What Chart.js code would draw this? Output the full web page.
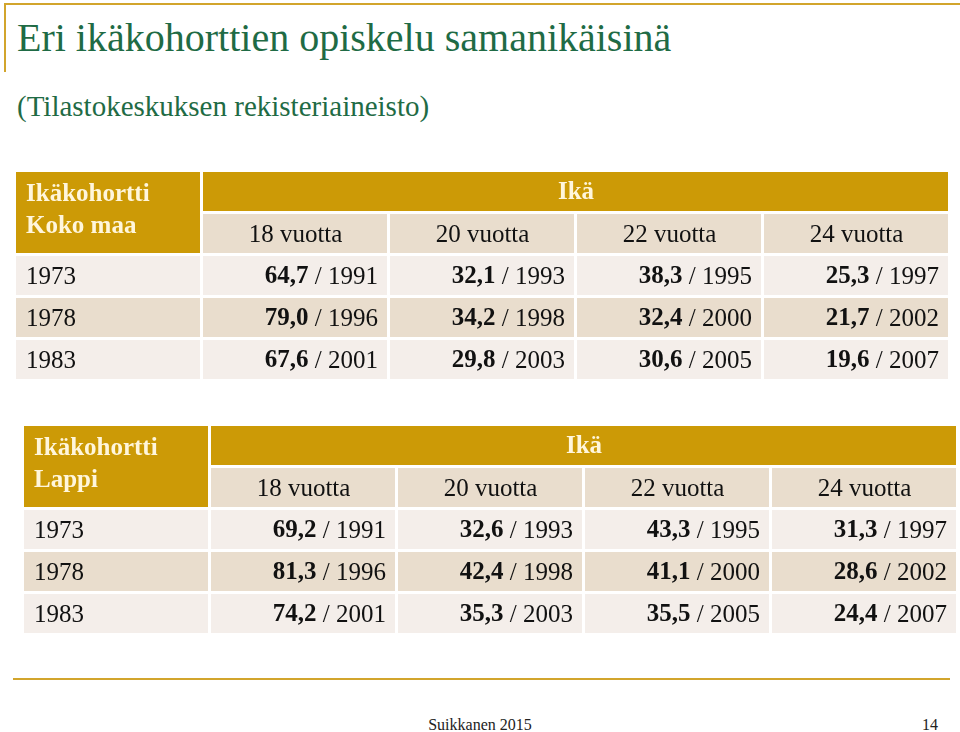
<!DOCTYPE html>
<html>
<head>
<meta charset="utf-8">
<script src="https://cdn.jsdelivr.net/npm/chart.js@4.4.0/dist/chart.umd.min.js"></script>
<style>
  body { margin: 0; width: 960px; height: 732px; background: #fff; position: relative; overflow: hidden;
         font-family: "Liberation Serif", "Times New Roman", serif; }
  .topline { position: absolute; left: 5px; top: 3px; width: 955px; height: 2px; background: #d2a52c; }
  .sideline { position: absolute; left: 4px; top: 3px; width: 2px; height: 69px; background: #d2a52c; }
  .title { position: absolute; left: 17px; top: 18px; font-size: 40px; line-height: 40px; color: #1f6b45; white-space: nowrap; }
  .subtitle { position: absolute; left: 17px; top: 92px; font-size: 29px; line-height: 29px; color: #1f6b45; white-space: nowrap; }
  canvas { position: absolute; }
  #table1 { left: 15px; top: 171px; }
  #table2 { left: 23px; top: 425px; }
  .footline { position: absolute; left: 13px; top: 678px; width: 937px; height: 2px; background: #d2a52c; }
  .foot { position: absolute; left: 380px; width: 200px; top: 716px; text-align: center; font-size: 16px; line-height: 18px; color: #222; }
  .page { position: absolute; left: 900px; width: 38px; top: 716px; text-align: right; font-size: 16px; line-height: 18px; color: #222; }
</style>
</head>
<body>
<div class="topline"></div>
<div class="sideline"></div>
<div class="title">Eri ikäkohorttien opiskelu samanikäisinä</div>
<div class="subtitle">(Tilastokeskuksen rekisteriaineisto)</div>
<canvas id="table1" width="935" height="210"></canvas>
<canvas id="table2" width="935" height="210"></canvas>
<div class="footline"></div>
<div class="foot">Suikkanen 2015</div>
<div class="page">14</div>
<script>
"use strict";

// data
var ages = ['18 vuotta', '20 vuotta', '22 vuotta', '24 vuotta'];
var cohorts = ['1973', '1978', '1983'];

// vuosi jolloin ikä täyttyy
var years1973 = [1991, 1993, 1995, 1997];
var years1978 = [1996, 1998, 2000, 2002];
var years1983 = [2001, 2003, 2005, 2007];

// Koko maa, opiskelevien osuus %
var kokoMaa1973 = [64.7, 32.1, 38.3, 25.3];
var kokoMaa1978 = [79.0, 34.2, 32.4, 21.7];
var kokoMaa1983 = [67.6, 29.8, 30.6, 19.6];

// Lappi
var lappi1973 = [69.2, 32.6, 43.3, 31.3];
var lappi1978 = [81.3, 42.4, 41.1, 28.6];
var lappi1983 = [74.2, 35.3, 35.5, 24.4];

var GOLD = '#cc9a06';
var TAN = '#e9ddcd';
var LIGHT = '#f4eeea';
var CREAM = '#fff6dc';
var INK = '#111111';
var FONT = '"Liberation Serif", "Times New Roman", serif';

var rowKeys = ['otsikko', 'iat'].concat(cohorts);
var colCount = ages.length + 1;

var fmt = function (v) {
  return v.toFixed(1).replace('.', ',');
};

function buildCells(areaName, shares, years) {
  var cells = [];
  // first column header spans two rows -> two bars without the inner border
  cells.push({ y: 'otsikko', x: [0, 1], bg: GOLD, edge: 'top', lines: ['Ikäkohortti', areaName] });
  cells.push({ y: 'iat', x: [0, 1], bg: GOLD, edge: 'bottom' });
  cells.push({ y: 'otsikko', x: [1, colCount], bg: GOLD, align: 'center', color: CREAM,
               parts: [{ t: 'Ikä', bold: true }] });
  ages.forEach(function (a, i) {
    cells.push({ y: 'iat', x: [i + 1, i + 2], bg: TAN, align: 'center', parts: [{ t: a }] });
  });
  cohorts.forEach(function (c, r) {
    var bg = r === 1 ? TAN : LIGHT;
    cells.push({ y: c, x: [0, 1], bg: bg, align: 'left', parts: [{ t: c }] });
    shares[r].forEach(function (v, i) {
      cells.push({ y: c, x: [i + 1, i + 2], bg: bg, align: 'right',
                   parts: [{ t: fmt(v), bold: true }, { t: ' / ' + years[r][i] }] });
    });
  });
  return cells;
}

var cellText = {
  id: 'cellText',
  afterDatasetsDraw: function (chart) {
    var ctx = chart.ctx;
    var meta = chart.getDatasetMeta(0);
    var data = chart.data.datasets[0].data;
    var pad = 11;
    ctx.save();
    ctx.textBaseline = 'middle';
    ctx.textAlign = 'left';
    meta.data.forEach(function (bar, i) {
      var cell = data[i];
      var p = bar.getProps(['x', 'base', 'y', 'height'], true);
      var left = Math.min(p.x, p.base);
      var right = Math.max(p.x, p.base);
      var cy = p.y + 1;
      if (cell.lines) {
        ctx.font = 'bold 25px ' + FONT;
        ctx.fillStyle = CREAM;
        ctx.fillText(cell.lines[0], left + pad, cy + 2);
        ctx.fillText(cell.lines[1], left + pad, cy + 34);
        return;
      }
      if (!cell.parts) return;
      var widths = cell.parts.map(function (part) {
        ctx.font = (part.bold ? 'bold ' : '') + '25px ' + FONT;
        return ctx.measureText(part.t).width;
      });
      var total = widths.reduce(function (a, b) { return a + b; }, 0);
      var x;
      if (cell.align === 'left') x = left + pad;
      else if (cell.align === 'right') x = right - pad - total;
      else x = (left + right) / 2 - total / 2;
      ctx.fillStyle = cell.color || INK;
      cell.parts.forEach(function (part, k) {
        ctx.font = (part.bold ? 'bold ' : '') + '25px ' + FONT;
        ctx.fillText(part.t, x, cy);
        x += widths[k];
      });
    });
    ctx.restore();
  }
};

function makeTable(canvasId, areaName, shares) {
  var years = [years1973, years1978, years1983];
  new Chart(document.getElementById(canvasId), {
    type: 'bar',
    data: {
      labels: rowKeys,
      datasets: [{
        data: buildCells(areaName, shares, years),
        backgroundColor: function (c) { return c.raw ? c.raw.bg : LIGHT; },
        borderColor: '#ffffff',
        // 1 + 2 px white = 3 px gap between cells, on whole pixels
        borderWidth: function (c) {
          var e = c.raw && c.raw.edge;
          if (e === 'top') return { top: 1, left: 1, right: 2, bottom: 0 };
          if (e === 'bottom') return { top: 0, left: 1, right: 2, bottom: 2 };
          return { top: 1, left: 1, right: 2, bottom: 2 };
        },
        borderSkipped: false,
        inflateAmount: 0,
        barPercentage: 1,
        categoryPercentage: 1
      }]
    },
    options: {
      indexAxis: 'y',
      responsive: false,
      animation: false,
      devicePixelRatio: 1,
      layout: { padding: 0 },
      scales: {
        x: { type: 'linear', min: 0, max: colCount, display: false },
        y: { type: 'category', labels: rowKeys, offset: true, display: false }
      },
      plugins: {
        legend: { display: false },
        tooltip: { enabled: false }
      }
    },
    plugins: [cellText]
  });
}

makeTable('table1', 'Koko maa', [kokoMaa1973, kokoMaa1978, kokoMaa1983]);
makeTable('table2', 'Lappi', [lappi1973, lappi1978, lappi1983]);
</script>
</body>
</html>
